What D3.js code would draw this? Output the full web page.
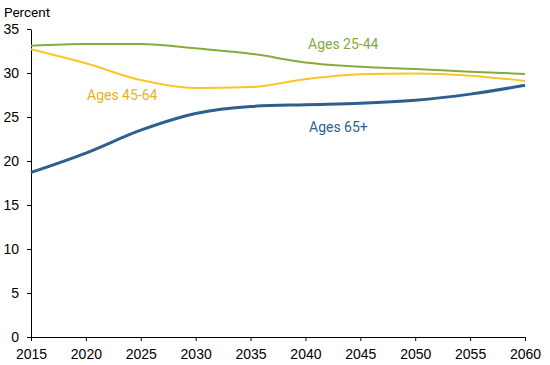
<!DOCTYPE html>
<html>
<head>
<meta charset="utf-8">
<script src="https://cdn.jsdelivr.net/npm/d3@7"></script>
<style>
  body { margin: 0; background: #fff; }
  svg { font-family: Roboto, "Noto Sans", sans-serif; }
  .axis text { font-size: 14px; fill: #000; }
  .axis path, .axis line { stroke: #000; stroke-width: 1; }
</style>
</head>
<body>
<div class="canvas"></div>
<script>
// Data
const years = [2015, 2020, 2025, 2030, 2035, 2040, 2045, 2050, 2055, 2060];
const ages2544 = [33.1, 33.3, 33.3, 32.8, 32.2, 31.2, 30.7, 30.45, 30.15, 29.9];
const ages4564 = [32.7, 31.1, 29.2, 28.3, 28.4, 29.3, 29.85, 29.95, 29.7, 29.1];
const ages65 = [18.7, 20.9, 23.5, 25.4, 26.2, 26.4, 26.55, 26.9, 27.6, 28.6];
const yTicks = [0, 5, 10, 15, 20, 25, 30, 35];

const series = [
  { name: "Ages 25-44", values: ages2544, color: "#86ab3c", label: "#86ab3c", width: 2, lx: 308, ly: 49 },
  { name: "Ages 45-64", values: ages4564, color: "#fbc42b", label: "#e8b21a", width: 2, lx: 87, ly: 100 },
  { name: "Ages 65+", values: ages65, color: "#2f5f8d", label: "#2f5f8d", width: 3, lx: 309, ly: 132 },
];

const width = 550;
const height = 365;
const margin = { top: 29, right: 25, bottom: 28, left: 31 };

const svg = d3.select(".canvas").append("svg")
  .attr("width", width)
  .attr("height", height);

const x = d3.scaleLinear()
  .domain([2015, 2060])
  .range([margin.left, width - margin.right]);
const y = d3.scaleLinear()
  .domain([0, 35])
  .range([height - margin.bottom, margin.top]);

// Axes
svg.append("g")
  .attr("class", "axis")
  .attr("transform", `translate(0, ${height - margin.bottom})`)
  .call(d3.axisBottom(x).tickValues(years).tickFormat(d3.format("d")).tickSize(4).tickSizeOuter(0))
  .call((g) => g.selectAll("text").attr("dy", "1.05em"));

svg.append("g")
  .attr("class", "axis")
  .attr("transform", `translate(${margin.left}, 0)`)
  .call(d3.axisLeft(y).tickValues(yTicks).tickSize(4).tickSizeOuter(0))
  .call((g) => g.selectAll("text").attr("x", -12));

svg.append("text")
  .attr("x", 4)
  .attr("y", 17)
  .attr("font-size", 13.5)
  .text("Percent");

// Lines
const line = d3.line()
  .x((d, i) => x(years[i]))
  .y((d) => y(d))
  .curve(d3.curveMonotoneX);

series.forEach((s) => {
  svg.append("path")
    .datum(s.values)
    .attr("fill", "none")
    .attr("stroke", s.color)
    .attr("stroke-width", s.width)
    .attr("d", line);

  svg.append("text")
    .attr("x", s.lx)
    .attr("y", s.ly)
    .attr("font-size", 14)
    .attr("fill", s.label)
    .text(s.name);
});
</script>
</body>
</html>
